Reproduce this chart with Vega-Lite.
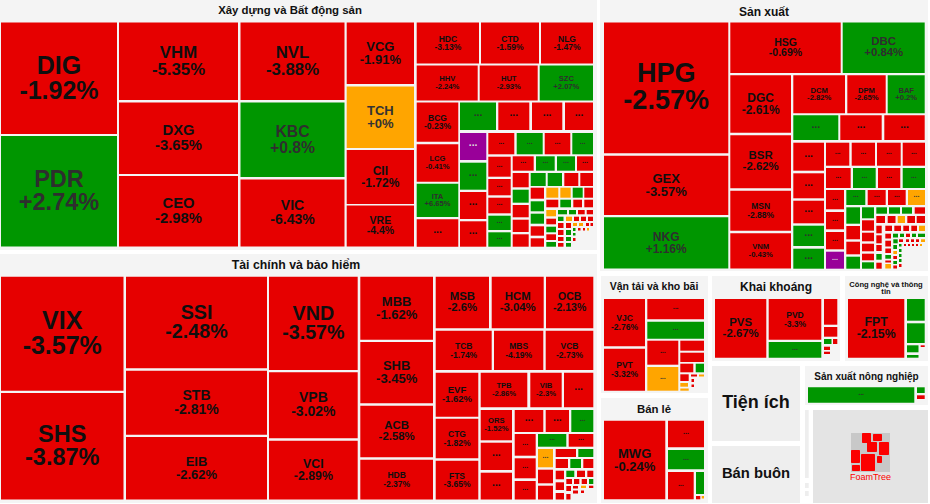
{"$schema":"https://vega.github.io/schema/vega-lite/v6.json","width":930,"height":504,"autosize":"none","padding":0,"background":"#ffffff","view":{"stroke":null},
"datasets":{
"panels":[
{"kind":"sector","x0":0,"x1":597,"y0":0,"y1":250},{"kind":"sector","x0":0,"x1":597,"y0":254,"y1":503},{"kind":"sector","x0":600,"x1":928,"y0":0,"y1":271},{"kind":"sector","x0":601,"x1":708,"y0":276,"y1":393},{"kind":"sector","x0":601,"x1":708,"y0":398,"y1":503},{"kind":"sector","x0":712,"x1":840,"y0":276,"y1":361},{"kind":"sector","x0":845,"x1":928,"y0":276,"y1":361},{"kind":"closed","x0":712,"x1":800,"y0":366,"y1":441},{"kind":"closed","x0":712,"x1":800,"y0":446,"y1":503},{"kind":"sector","x0":805,"x1":928,"y0":366,"y1":405},{"kind":"closed","x0":805,"x1":808.7,"y0":410,"y1":478},{"kind":"closed","x0":805,"x1":808.7,"y0":483,"y1":488},{"kind":"closed","x0":805,"x1":808.7,"y0":491,"y1":496},{"kind":"brand","x0":813,"x1":928,"y0":410,"y1":503},{"kind":"logo","x0":851,"x1":890,"y0":433,"y1":472}
],
"titles":[
{"t":"Xây dựng và Bất động sản","x":290,"y":10.5,"tier":"l"},{"t":"Tài chính và bảo hiểm","x":296,"y":265,"tier":"j"},{"t":"Sản xuất","x":764,"y":12,"tier":"k"},{"t":"Vận tải và kho bãi","x":654,"y":287,"tier":"m"},{"t":"Bán lẻ","x":654,"y":410,"tier":"l"},{"t":"Khai khoáng","x":776,"y":287,"tier":"k"},{"t":"Công nghệ và thông","x":886,"y":284.5,"tier":"p"},{"t":"tin","x":886,"y":291.5,"tier":"p"},{"t":"Sản xuất nông nghiệp","x":866.5,"y":377,"tier":"s"},{"t":"Tiện ích","x":756,"y":403,"tier":"t"},{"t":"Bán buôn","x":756,"y":474,"tier":"g"}
],
"logo":[
{"x0":862,"x1":871,"y0":433,"y1":443},{"x0":873,"x1":882,"y0":434,"y1":441},{"x0":867,"x1":877,"y0":442,"y1":452},{"x0":879,"x1":889,"y0":442,"y1":455},{"x0":851,"x1":860,"y0":450,"y1":463},{"x0":861,"x1":875,"y0":454,"y1":471},{"x0":877,"x1":882,"y0":456,"y1":463},{"x0":852,"x1":860,"y0":465,"y1":471}
],
"cells":[
{"code":"DIG","pct":"-1.92%","status":"down","tier":"b","x0":1,"x1":117,"y0":22.5,"y1":134},
{"code":"PDR","pct":"+2.74%","status":"up","tier":"c","x0":1,"x1":117,"y0":136,"y1":246.5},
{"code":"VHM","pct":"-5.35%","status":"down","tier":"e","x0":119,"x1":238,"y0":22.5,"y1":100},
{"code":"DXG","pct":"-3.65%","status":"down","tier":"g","x0":119,"x1":238,"y0":102.5,"y1":174},
{"code":"CEO","pct":"-2.98%","status":"down","tier":"g","x0":119,"x1":238,"y0":176,"y1":246.5},
{"code":"NVL","pct":"-3.88%","status":"down","tier":"e","x0":240.5,"x1":344.5,"y0":22.5,"y1":100},
{"code":"KBC","pct":"+0.8%","status":"up","tier":"f","x0":240.5,"x1":344.5,"y0":102.5,"y1":177},
{"code":"VIC","pct":"-6.43%","status":"down","tier":"h","x0":240.5,"x1":344.5,"y0":179.5,"y1":246.5},
{"code":"VCG","pct":"-1.91%","status":"down","tier":"i","x0":346.7,"x1":414,"y0":22.5,"y1":84},
{"code":"TCH","pct":"+0%","status":"flat","tier":"i","x0":346.7,"x1":414,"y0":86.5,"y1":148},
{"code":"CII","pct":"-1.72%","status":"down","tier":"k","x0":346.7,"x1":414,"y0":150,"y1":204},
{"code":"VRE","pct":"-4.4%","status":"down","tier":"m","x0":346.7,"x1":414,"y0":205.5,"y1":246.5},
{"code":"HDC","pct":"-3.13%","status":"down","tier":"o","x0":416.7,"x1":479,"y0":22.5,"y1":63.5},
{"code":"CTD","pct":"-1.59%","status":"down","tier":"o","x0":481,"x1":539,"y0":22.5,"y1":63.5},
{"code":"NLG","pct":"-1.47%","status":"down","tier":"o","x0":541,"x1":593,"y0":22.5,"y1":63.5},
{"code":"HHV","pct":"-2.24%","status":"down","tier":"p","x0":416.7,"x1":477.7,"y0":65.5,"y1":100.5},
{"code":"HUT","pct":"-2.93%","status":"down","tier":"p","x0":479.7,"x1":537.7,"y0":65.5,"y1":100.5},
{"code":"SZC","pct":"+2.07%","status":"up","tier":"p","x0":539.7,"x1":593,"y0":65.5,"y1":100.5},
{"code":"BCG","pct":"-0.23%","status":"down","tier":"o","x0":416.7,"x1":458.3,"y0":102.5,"y1":141.7},
{"code":"...","status":"up","tier":"q","x0":460,"x1":496,"y0":102.5,"y1":130},
{"code":"...","status":"down","tier":"q","x0":498.3,"x1":529.3,"y0":102.5,"y1":130},
{"code":"...","status":"down","tier":"q","x0":532,"x1":562.3,"y0":102.5,"y1":130},
{"code":"...","status":"down","tier":"q","x0":565,"x1":593,"y0":102.5,"y1":130},
{"code":"LCG","pct":"-0.41%","status":"down","tier":"p","x0":416.7,"x1":458.3,"y0":144.3,"y1":181.7},
{"code":"ITA","pct":"+6.65%","status":"up","tier":"p","x0":416.7,"x1":458.3,"y0":183.7,"y1":217},
{"code":"...","status":"down","tier":"q","x0":416.7,"x1":458.3,"y0":219.3,"y1":246.7},
{"code":"...","status":"ceiling","tier":"q","x0":460,"x1":486.3,"y0":133,"y1":160},
{"code":"...","status":"up","tier":"q","x0":460,"x1":486.3,"y0":162.7,"y1":189.7},
{"code":"...","status":"down","tier":"q","x0":460,"x1":486.3,"y0":192,"y1":219},
{"code":"...","status":"down","tier":"q","x0":460,"x1":486.3,"y0":221.3,"y1":246.7},
{"code":"...","status":"down","tier":"r","x0":488.3,"x1":514.3,"y0":133,"y1":154.3},
{"code":"...","status":"up","tier":"r","x0":516.7,"x1":542.7,"y0":133,"y1":154.3},
{"code":"...","status":"down","tier":"r","x0":544.7,"x1":570.3,"y0":133,"y1":154.3},
{"code":"...","status":"up","tier":"r","x0":572.3,"x1":593,"y0":133,"y1":154.3},
{"code":"...","status":"down","tier":"r","x0":488.3,"x1":510.7,"y0":156.7,"y1":176.7},
{"code":"...","status":"down","tier":"r","x0":488.3,"x1":510.7,"y0":179,"y1":195.3},
{"code":"...","status":"down","tier":"r","x0":488.3,"x1":510.7,"y0":197.7,"y1":213.3},
{"code":"...","status":"up","tier":"r","x0":488.3,"x1":510.7,"y0":215.7,"y1":230},
{"code":"...","status":"up","tier":"r","x0":488.3,"x1":510.7,"y0":232.3,"y1":246.7},
{"code":"...","status":"down","tier":"r","x0":512.7,"x1":533.7,"y0":156.3,"y1":170.7},
{"code":"...","status":"up","tier":"r","x0":536,"x1":554.7,"y0":156.3,"y1":170.7},
{"code":"...","status":"up","tier":"r","x0":557,"x1":575,"y0":156.3,"y1":170.7},
{"code":"...","status":"down","tier":"r","x0":577,"x1":593,"y0":156.3,"y1":170.7},
{"status":"down","x0":512.7,"x1":528.7,"y0":173,"y1":187.3},{"status":"up","x0":512.7,"x1":528.7,"y0":189.7,"y1":202.7},{"status":"down","x0":512.7,"x1":528.7,"y0":205,"y1":217.3},{"status":"down","x0":512.7,"x1":528.7,"y0":219.7,"y1":232},{"status":"down","x0":512.7,"x1":528.7,"y0":234.3,"y1":246.7},
{"status":"up","x0":530.7,"x1":545.7,"y0":173,"y1":186},{"status":"up","x0":547.7,"x1":562,"y0":173,"y1":186},{"status":"down","x0":564.3,"x1":578.3,"y0":173,"y1":186},{"status":"down","x0":580.3,"x1":593,"y0":173,"y1":186},
{"status":"down","x0":530.7,"x1":544,"y0":187.7,"y1":198.7},{"status":"up","x0":530.7,"x1":544,"y0":201.3,"y1":211.3},{"status":"up","x0":530.7,"x1":544,"y0":213.7,"y1":223.7},{"status":"down","x0":530.7,"x1":544,"y0":226.3,"y1":235.7},{"status":"down","x0":530.7,"x1":544,"y0":238.3,"y1":246.7},
{"status":"flat","x0":546.3,"x1":558.3,"y0":187.7,"y1":197.7},{"status":"flat","x0":560.3,"x1":570.7,"y0":187.7,"y1":197.7},{"status":"up","x0":572.7,"x1":582.7,"y0":187.7,"y1":197.7},{"status":"down","x0":584.3,"x1":593,"y0":187.7,"y1":197.7},
{"status":"down","x0":546.3,"x1":558.3,"y0":199.7,"y1":207.3},{"status":"up","x0":560.3,"x1":571,"y0":199.7,"y1":207.3},{"status":"down","x0":573.3,"x1":582,"y0":199.7,"y1":207.3},{"status":"down","x0":584.3,"x1":593,"y0":199.7,"y1":207.3},
{"status":"flat","x0":546.3,"x1":556,"y0":210,"y1":216.3},{"status":"down","x0":546.3,"x1":556,"y0":218.7,"y1":224.3},{"status":"up","x0":546.3,"x1":556,"y0":226.7,"y1":232.3},{"status":"down","x0":546.3,"x1":556,"y0":234.3,"y1":240},{"status":"up","x0":546.3,"x1":556,"y0":242,"y1":246.7},
{"status":"up","x0":558,"x1":567,"y0":210,"y1":214.3},{"status":"up","x0":569,"x1":576,"y0":210,"y1":214.3},{"status":"down","x0":578,"x1":584.7,"y0":210,"y1":214.3},{"status":"down","x0":586.7,"x1":593,"y0":210,"y1":214.3},
{"status":"up","x0":558,"x1":563.5,"y0":216.7,"y1":221},{"status":"flat","x0":566,"x1":572,"y0":216.7,"y1":221},{"status":"down","x0":574,"x1":579,"y0":216.7,"y1":221},{"status":"down","x0":581,"x1":586,"y0":216.7,"y1":221},{"status":"down","x0":588,"x1":593,"y0":216.7,"y1":221},
{"status":"down","x0":558,"x1":563.5,"y0":223,"y1":228},{"status":"down","x0":566,"x1":571,"y0":223,"y1":228},{"status":"flat","x0":573,"x1":577,"y0":223,"y1":226},{"status":"flat","x0":579,"x1":583,"y0":223,"y1":226},{"status":"down","x0":586,"x1":589,"y0":223,"y1":226},{"status":"down","x0":590.5,"x1":593,"y0":223,"y1":226},
{"status":"down","x0":558,"x1":563.5,"y0":230,"y1":235},{"status":"up","x0":566,"x1":571,"y0":230,"y1":235},{"status":"up","x0":573,"x1":575.5,"y0":228,"y1":231},{"status":"down","x0":578,"x1":580.5,"y0":228,"y1":230.5},{"status":"down","x0":583,"x1":585,"y0":228,"y1":230.5},{"status":"flat","x0":587,"x1":589,"y0":228,"y1":230.5},
{"status":"down","x0":558,"x1":563.5,"y0":237,"y1":241},{"status":"up","x0":566,"x1":571,"y0":237,"y1":241},{"status":"up","x0":573,"x1":575.5,"y0":233,"y1":235.5},{"status":"down","x0":573,"x1":575.5,"y0":238,"y1":241},
{"status":"down","x0":558,"x1":563.5,"y0":243,"y1":246.7},{"status":"up","x0":566,"x1":571,"y0":243,"y1":246.7},

{"code":"VIX","pct":"-3.57%","status":"down","tier":"b","x0":1,"x1":123.5,"y0":276.7,"y1":390.7},
{"code":"SHS","pct":"-3.87%","status":"down","tier":"c","x0":1,"x1":123.5,"y0":393,"y1":499.5},
{"code":"SSI","pct":"-2.48%","status":"down","tier":"d","x0":126,"x1":267,"y0":276.7,"y1":368.3},
{"code":"STB","pct":"-2.81%","status":"down","tier":"h","x0":126,"x1":267,"y0":370.7,"y1":434.7},
{"code":"EIB","pct":"-2.62%","status":"down","tier":"i","x0":126,"x1":267,"y0":437,"y1":499.5},
{"code":"VND","pct":"-3.57%","status":"down","tier":"d","x0":269,"x1":357.7,"y0":276.7,"y1":370},
{"code":"VPB","pct":"-3.02%","status":"down","tier":"h","x0":269,"x1":357.7,"y0":372.3,"y1":438.3},
{"code":"VCI","pct":"-2.89%","status":"down","tier":"j","x0":269,"x1":357.7,"y0":440.7,"y1":499.5},
{"code":"MBB","pct":"-1.62%","status":"down","tier":"i","x0":360.3,"x1":433,"y0":276.7,"y1":339.7},
{"code":"SHB","pct":"-3.45%","status":"down","tier":"i","x0":360.3,"x1":433,"y0":342,"y1":403.3},
{"code":"ACB","pct":"-2.58%","status":"down","tier":"l","x0":360.3,"x1":433,"y0":405.7,"y1":457.3},
{"code":"HDB","pct":"-2.37%","status":"down","tier":"o","x0":360.3,"x1":433,"y0":459.7,"y1":499.5},
{"code":"MSB","pct":"-2.6%","status":"down","tier":"l","x0":435.7,"x1":489,"y0":276.7,"y1":328.3},
{"code":"HCM","pct":"-3.04%","status":"down","tier":"l","x0":491.7,"x1":543.7,"y0":276.7,"y1":328.3},
{"code":"OCB","pct":"-2.13%","status":"down","tier":"m","x0":546,"x1":593.3,"y0":276.7,"y1":328.3},
{"code":"TCB","pct":"-1.74%","status":"down","tier":"o","x0":435.7,"x1":491.7,"y0":330.7,"y1":370},
{"code":"MBS","pct":"-4.19%","status":"down","tier":"o","x0":494,"x1":543.3,"y0":330.7,"y1":370},
{"code":"VCB","pct":"-2.73%","status":"down","tier":"o","x0":545.7,"x1":593.3,"y0":330.7,"y1":370},
{"code":"EVF","pct":"-1.62%","status":"down","tier":"n","x0":435.7,"x1":478.3,"y0":372.7,"y1":416.7},
{"code":"CTG","pct":"-1.82%","status":"down","tier":"o","x0":435.7,"x1":478.3,"y0":418.7,"y1":458.3},
{"code":"FTS","pct":"-3.65%","status":"down","tier":"o","x0":435.7,"x1":478.3,"y0":460.7,"y1":499.5},
{"code":"TPB","pct":"-2.86%","status":"down","tier":"p","x0":480.7,"x1":527.3,"y0":372.7,"y1":407.3},
{"code":"VIB","pct":"-2.3%","status":"down","tier":"p","x0":530.3,"x1":561.7,"y0":372.7,"y1":407.3},
{"code":"...","status":"down","tier":"q","x0":564,"x1":593.3,"y0":372.7,"y1":407.3},
{"code":"ORS","pct":"-1.52%","status":"down","tier":"p","x0":480.7,"x1":512,"y0":410,"y1":440.3},
{"code":"...","status":"down","tier":"q","x0":480.7,"x1":512,"y0":442.7,"y1":470},
{"code":"...","status":"down","tier":"q","x0":480.7,"x1":512,"y0":472.7,"y1":499.5},
{"code":"...","status":"down","tier":"q","x0":514.7,"x1":543.3,"y0":410,"y1":432},
{"code":"...","status":"down","tier":"q","x0":545.7,"x1":569,"y0":410,"y1":432},
{"code":"...","status":"up","tier":"r","x0":571.3,"x1":593.3,"y0":410,"y1":432},
{"code":"...","status":"down","tier":"r","x0":514.7,"x1":535.7,"y0":434,"y1":455.7},
{"code":"...","status":"down","tier":"r","x0":514.7,"x1":535.7,"y0":458.3,"y1":478.3},
{"code":"...","status":"down","tier":"r","x0":514.7,"x1":535.7,"y0":481,"y1":499.5},
{"code":"...","status":"up","tier":"r","x0":538,"x1":566.3,"y0":434,"y1":446.7},
{"code":"...","status":"down","tier":"r","x0":568.7,"x1":593.3,"y0":434,"y1":446.7},
{"code":"...","status":"flat","tier":"r","x0":538,"x1":553,"y0":449,"y1":467.3},
{"status":"down","x0":538,"x1":553,"y0":469.7,"y1":483.3},{"status":"down","x0":538,"x1":553,"y0":485.7,"y1":499.5},
{"status":"down","x0":555.7,"x1":576,"y0":449,"y1":457},{"status":"up","x0":578.3,"x1":593.3,"y0":449,"y1":457},
{"status":"down","x0":555.7,"x1":568,"y0":459,"y1":468},{"status":"up","x0":570.3,"x1":581,"y0":459,"y1":468},{"status":"down","x0":583.3,"x1":593.3,"y0":459,"y1":468},
{"status":"down","x0":555.7,"x1":564,"y0":470.7,"y1":479.3},{"status":"down","x0":555.7,"x1":564,"y0":482.3,"y1":490},{"status":"down","x0":555.7,"x1":564,"y0":493,"y1":499.5},
{"status":"up","x0":566.3,"x1":574.3,"y0":470.7,"y1":477},{"status":"down","x0":577,"x1":585,"y0":470.7,"y1":477},{"status":"down","x0":587.3,"x1":593.3,"y0":470.7,"y1":477},
{"status":"down","x0":566.3,"x1":572,"y0":479,"y1":484},{"status":"down","x0":574,"x1":579.3,"y0":479,"y1":484},{"status":"down","x0":581.7,"x1":587,"y0":479,"y1":484},{"status":"up","x0":589,"x1":593.3,"y0":479,"y1":484},
{"status":"down","x0":566.3,"x1":571,"y0":486,"y1":491},{"status":"down","x0":573,"x1":578,"y0":486,"y1":488.5},{"status":"flat","x0":581,"x1":586,"y0":485.7,"y1":488},{"status":"down","x0":589,"x1":593.3,"y0":485.7,"y1":488},
{"status":"down","x0":573,"x1":578,"y0":490.5,"y1":493.5},{"status":"down","x0":581,"x1":584,"y0":490.5,"y1":493},{"status":"down","x0":566.3,"x1":570.5,"y0":494,"y1":499.5},

{"code":"HPG","pct":"-2.57%","status":"down","tier":"a","x0":604,"x1":728.3,"y0":22.5,"y1":153.3},
{"code":"GEX","pct":"-3.57%","status":"down","tier":"i","x0":604,"x1":728.3,"y0":155.7,"y1":215},
{"code":"NKG","pct":"+1.16%","status":"up","tier":"k","x0":604,"x1":728.3,"y0":217.3,"y1":268.5},
{"code":"HSG","pct":"-0.69%","status":"down","tier":"m","x0":730.3,"x1":840.7,"y0":22.5,"y1":73},
{"code":"DBC","pct":"+0.84%","status":"up","tier":"l","x0":842.7,"x1":924.7,"y0":22.5,"y1":73},
{"code":"DGC","pct":"-2.61%","status":"down","tier":"k","x0":730.3,"x1":791,"y0":75.3,"y1":132.7},
{"code":"BSR","pct":"-2.62%","status":"down","tier":"l","x0":730.3,"x1":791,"y0":135.3,"y1":188.3},
{"code":"MSN","pct":"-2.88%","status":"down","tier":"o","x0":730.3,"x1":791,"y0":190.7,"y1":230.7},
{"code":"VNM","pct":"-0.43%","status":"down","tier":"p","x0":730.3,"x1":791,"y0":233.3,"y1":268.5},
{"code":"DCM","pct":"-2.82%","status":"down","tier":"p","x0":793.3,"x1":845,"y0":75.3,"y1":113.3},
{"code":"DPM","pct":"-2.65%","status":"down","tier":"p","x0":847.3,"x1":885.7,"y0":75.3,"y1":113.3},
{"code":"BAF","pct":"+0.2%","status":"up","tier":"p","x0":887.7,"x1":924.7,"y0":75.3,"y1":113.3},
{"code":"...","status":"up","tier":"q","x0":793.3,"x1":838.3,"y0":115.3,"y1":140},
{"code":"...","status":"down","tier":"q","x0":840.3,"x1":881.7,"y0":115.3,"y1":140},
{"code":"...","status":"down","tier":"q","x0":884.3,"x1":924.7,"y0":115.3,"y1":140},
{"code":"...","status":"down","tier":"q","x0":793.3,"x1":824,"y0":142.7,"y1":170.7},
{"code":"...","status":"down","tier":"q","x0":793.3,"x1":824,"y0":173.3,"y1":198.3},
{"code":"...","status":"down","tier":"q","x0":793.3,"x1":824,"y0":200.7,"y1":223.3},
{"code":"...","status":"up","tier":"q","x0":793.3,"x1":824,"y0":225.7,"y1":246},
{"code":"...","status":"up","tier":"q","x0":793.3,"x1":824,"y0":248.7,"y1":268.7},
{"code":"...","status":"down","tier":"r","x0":826,"x1":849.3,"y0":142.7,"y1":165.7},
{"code":"...","status":"down","tier":"r","x0":851.7,"x1":875,"y0":142.7,"y1":165.7},
{"code":"...","status":"down","tier":"r","x0":877,"x1":900.7,"y0":142.7,"y1":165.7},
{"code":"...","status":"down","tier":"r","x0":902.7,"x1":925,"y0":142.7,"y1":165.7},
{"code":"...","status":"down","tier":"r","x0":826,"x1":850.7,"y0":168,"y1":188},
{"code":"...","status":"up","tier":"r","x0":853,"x1":875.7,"y0":168,"y1":188},
{"code":"...","status":"down","tier":"r","x0":878,"x1":900.3,"y0":168,"y1":188},
{"code":"...","status":"up","tier":"r","x0":902.7,"x1":925,"y0":168,"y1":188},
{"code":"...","status":"down","tier":"r","x0":826,"x1":844,"y0":190,"y1":209.3},
{"code":"...","status":"down","tier":"r","x0":826,"x1":844,"y0":212,"y1":229.3},
{"code":"...","status":"down","tier":"r","x0":826,"x1":844,"y0":232,"y1":249.3},
{"code":"...","status":"ceiling","tier":"r","x0":826,"x1":844,"y0":251.7,"y1":268.7},
{"code":"...","status":"up","tier":"r","x0":846.3,"x1":865.3,"y0":190,"y1":205},
{"code":"...","status":"down","tier":"r","x0":867.7,"x1":885.7,"y0":190,"y1":205},
{"code":"...","status":"down","tier":"r","x0":888,"x1":905.7,"y0":190,"y1":205},
{"code":"...","status":"flat","tier":"r","x0":908,"x1":925,"y0":190,"y1":205},
{"status":"up","x0":846.3,"x1":860,"y0":207.3,"y1":223.7},{"status":"down","x0":846.3,"x1":860,"y0":226,"y1":239.3},{"status":"down","x0":846.3,"x1":860,"y0":241.7,"y1":254.3},{"status":"up","x0":846.3,"x1":860,"y0":256.7,"y1":268.7},
{"status":"up","x0":862,"x1":874,"y0":207.3,"y1":218.3},{"status":"down","x0":862,"x1":874,"y0":220.3,"y1":230.7},{"status":"down","x0":862,"x1":874,"y0":232.7,"y1":241.3},{"status":"down","x0":862,"x1":874,"y0":243.7,"y1":251.3},{"status":"down","x0":862,"x1":874,"y0":253.7,"y1":260.3},{"status":"up","x0":862,"x1":874,"y0":262.3,"y1":268.7},
{"status":"up","x0":876.3,"x1":887,"y0":207.3,"y1":213.7},{"status":"up","x0":889,"x1":900,"y0":207.3,"y1":213.7},{"status":"up","x0":902,"x1":912,"y0":207.3,"y1":213.7},{"status":"down","x0":914.7,"x1":925,"y0":207.3,"y1":213.7},
{"status":"down","x0":876.3,"x1":885,"y0":216,"y1":223},{"status":"down","x0":887.7,"x1":895.5,"y0":216,"y1":223},{"status":"flat","x0":897.7,"x1":905,"y0":216,"y1":223},{"status":"down","x0":907.3,"x1":915,"y0":216,"y1":223},{"status":"down","x0":916.7,"x1":925,"y0":216,"y1":223},
{"status":"down","x0":876.3,"x1":881.7,"y0":225.7,"y1":233.3},{"status":"down","x0":876.3,"x1":881.7,"y0":235.3,"y1":243.3},{"status":"down","x0":876.3,"x1":881.7,"y0":245,"y1":251},{"status":"up","x0":876.3,"x1":881.7,"y0":254,"y1":259.7},{"status":"down","x0":876.3,"x1":881.7,"y0":262.7,"y1":268.7},
{"status":"down","x0":885.3,"x1":892,"y0":225.7,"y1":231},{"status":"down","x0":894.3,"x1":901,"y0":225.7,"y1":231},{"status":"down","x0":903.3,"x1":909,"y0":225.7,"y1":231},{"status":"down","x0":911.3,"x1":917,"y0":225.7,"y1":231},{"status":"flat","x0":919,"x1":925,"y0":225.7,"y1":231},
{"status":"down","x0":885.3,"x1":891,"y0":233.7,"y1":238.5},{"status":"up","x0":893,"x1":898,"y0":233.7,"y1":237.5},{"status":"up","x0":900,"x1":904,"y0":233.7,"y1":237},{"status":"down","x0":906,"x1":910,"y0":233.7,"y1":237},{"status":"up","x0":912,"x1":916,"y0":233.7,"y1":237},{"status":"up","x0":918,"x1":925,"y0":233.7,"y1":237},
{"status":"down","x0":885.3,"x1":891,"y0":240.7,"y1":246.5},{"status":"up","x0":893.3,"x1":897.7,"y0":239.3,"y1":243.3},{"status":"down","x0":899,"x1":903,"y0":239.3,"y1":242},{"status":"down","x0":906,"x1":909,"y0":239.3,"y1":242},{"status":"down","x0":911,"x1":914,"y0":239.3,"y1":242},{"status":"down","x0":916,"x1":919,"y0":239.3,"y1":242},{"status":"flat","x0":921,"x1":925,"y0":239.3,"y1":242},
{"status":"down","x0":885.3,"x1":891,"y0":248.5,"y1":253},{"status":"up","x0":893.3,"x1":897,"y0":245,"y1":249},{"status":"up","x0":899,"x1":901.5,"y0":244,"y1":246.5},{"status":"down","x0":904,"x1":906,"y0":244,"y1":246},{"status":"down","x0":908,"x1":910,"y0":244,"y1":246},{"status":"down","x0":912,"x1":914,"y0":244,"y1":246},{"status":"down","x0":916,"x1":918,"y0":244,"y1":246},{"status":"flat","x0":920,"x1":922,"y0":244,"y1":246},
{"status":"up","x0":885.3,"x1":891,"y0":255,"y1":258.7},{"status":"flat","x0":893.3,"x1":897,"y0":251,"y1":254},{"status":"up","x0":899,"x1":901.5,"y0":249,"y1":252},{"status":"down","x0":893.3,"x1":897,"y0":256,"y1":259},{"status":"up","x0":899,"x1":901.5,"y0":254,"y1":257},{"status":"flat","x0":885.3,"x1":891,"y0":264,"y1":268.5},{"status":"down","x0":885.3,"x1":891,"y0":260.5,"y1":262.5},{"status":"up","x0":893.3,"x1":897,"y0":261,"y1":264},{"status":"down","x0":893.3,"x1":897,"y0":265.5,"y1":268.5},{"status":"up","x0":899,"x1":901.5,"y0":259,"y1":262},{"status":"down","x0":899,"x1":901.5,"y0":264,"y1":267},

{"code":"VJC","pct":"-2.76%","status":"down","tier":"o","x0":604,"x1":645,"y0":299,"y1":346.3},
{"code":"PVT","pct":"-3.32%","status":"down","tier":"o","x0":604,"x1":645,"y0":348.7,"y1":390.7},
{"code":"...","status":"down","tier":"r","x0":647.3,"x1":704,"y0":299,"y1":319.3},
{"code":"...","status":"up","tier":"r","x0":647.3,"x1":704,"y0":321.7,"y1":338.7},
{"code":"...","status":"down","tier":"r","x0":647.3,"x1":678.3,"y0":340.7,"y1":364.7},
{"code":"...","status":"flat","tier":"r","x0":647.3,"x1":678.3,"y0":367,"y1":390.7},
{"status":"down","x0":680.3,"x1":704,"y0":340.7,"y1":350.7},{"status":"down","x0":680.3,"x1":704,"y0":352.7,"y1":362},{"status":"down","x0":680.3,"x1":693.3,"y0":363.7,"y1":372.3},{"status":"up","x0":695.7,"x1":704,"y0":363.7,"y1":372.3},
{"status":"down","x0":680.3,"x1":688.7,"y0":374.3,"y1":381},{"status":"down","x0":691,"x1":697,"y0":374.5,"y1":376.5},{"status":"flat","x0":699,"x1":704,"y0":374.5,"y1":376.5},{"status":"down","x0":691.5,"x1":694,"y0":379,"y1":382},{"status":"flat","x0":680.3,"x1":688,"y0":383,"y1":386.7},{"status":"down","x0":691.5,"x1":694,"y0":384.5,"y1":387},{"status":"flat","x0":680.3,"x1":688.7,"y0":388.5,"y1":390.7},
{"code":"MWG","pct":"-0.24%","status":"down","tier":"i","x0":604,"x1":665.3,"y0":420.7,"y1":499.3},
{"code":"...","status":"down","tier":"r","x0":668,"x1":704,"y0":420.7,"y1":447.3},
{"code":"...","status":"up","tier":"r","x0":668,"x1":704,"y0":450,"y1":469.3},
{"code":"...","status":"down","tier":"r","x0":668,"x1":693.7,"y0":472,"y1":499.3},
{"status":"up","x0":696,"x1":704,"y0":472,"y1":494},{"status":"down","x0":696,"x1":700.3,"y0":496,"y1":499.3},{"status":"flat","x0":701.7,"x1":704,"y0":496,"y1":498.5},
{"code":"PVS","pct":"-2.67%","status":"down","tier":"l","x0":715,"x1":766.3,"y0":299,"y1":357.7},
{"code":"PVD","pct":"-3.3%","status":"down","tier":"o","x0":768.7,"x1":821.3,"y0":299,"y1":339.7},
{"code":"...","status":"up","tier":"r","x0":768.7,"x1":821.3,"y0":342,"y1":357.7},
{"status":"down","x0":824,"x1":837.3,"y0":299,"y1":324.7},{"status":"down","x0":824,"x1":837.3,"y0":327,"y1":336.7},{"status":"up","x0":824,"x1":831.5,"y0":339,"y1":344},{"status":"down","x0":833,"x1":837.3,"y0":339,"y1":344},{"status":"down","x0":824,"x1":830,"y0":346.7,"y1":350},{"status":"down","x0":824,"x1":830,"y0":351.7,"y1":354},
{"code":"FPT","pct":"-2.15%","status":"down","tier":"j","x0":848,"x1":904.3,"y0":299,"y1":357.7},
{"status":"up","x0":907,"x1":924.7,"y0":299,"y1":320.7},{"status":"up","x0":907,"x1":924.7,"y0":323.3,"y1":343},{"status":"up","x0":907,"x1":918.5,"y0":345.3,"y1":352.3},{"status":"down","x0":920.7,"x1":924.7,"y0":345.3,"y1":347},{"status":"up","x0":907,"x1":918.5,"y0":355,"y1":357.7},
{"code":"...","status":"up","tier":"r","x0":808,"x1":914.3,"y0":387.3,"y1":402.7},
{"status":"up","x0":917,"x1":924.7,"y0":387.3,"y1":393},{"status":"down","x0":917,"x1":924.7,"y0":395.3,"y1":399}
]},
"layer":[
{"data":{"name":"panels"},"mark":{"type":"rect"},
 "encoding":{"x":{"field":"x0","type":"quantitative","scale":{"domain":[0,930],"nice":false,"zero":false},"axis":null},"x2":{"field":"x1"},"y":{"field":"y0","type":"quantitative","scale":{"domain":[504,0],"nice":false,"zero":false},"axis":null},"y2":{"field":"y1"},
 "color":{"field":"kind","type":"nominal","legend":null,"scale":{"domain":["sector","closed","brand","logo"],"range":["#f4f4f4","#eeeeee","#e4e4e4","#c8c8c8"]}}}},
{"data":{"name":"logo"},"mark":{"type":"rect","fill":"#fb0000","cornerRadius":1},
 "encoding":{"x":{"field":"x0","type":"quantitative"},"x2":{"field":"x1"},"y":{"field":"y0","type":"quantitative"},"y2":{"field":"y1"}}},
{"data":{"values":[{"brand":"FoamTree","x":870.5,"y":477}]},"mark":{"type":"text","font":"Liberation Sans","fontSize":9,"fill":"#fb0000","align":"center","baseline":"middle"},
 "encoding":{"x":{"field":"x","type":"quantitative"},"y":{"field":"y","type":"quantitative"},"text":{"field":"brand"}}},
{"data":{"name":"cells"},"mark":{"type":"rect"},
 "encoding":{"x":{"field":"x0","type":"quantitative"},"x2":{"field":"x1"},"y":{"field":"y0","type":"quantitative"},"y2":{"field":"y1"},
 "color":{"field":"status","type":"nominal","legend":null,"scale":{"domain":["down","up","flat","ceiling"],"range":["#e60000","#009600","#ffa500","#990099"]}}}},
{"data":{"name":"cells"},"transform":[{"filter":"datum.code"},{"calculate":"(datum.x0+datum.x1)/2","as":"cx"},{"calculate":"(datum.y0+datum.y1)/2","as":"cy"},{"calculate":"datum.pct ? [datum.code, datum.pct] : datum.code","as":"label"}],
 "mark":{"type":"text","font":"Liberation Sans","fontWeight":"bold","align":"center","baseline":"middle","lineHeight":{"expr":"scale('size', datum.tier)"},"dy":{"expr":"datum.pct ? -scale('size', datum.tier)/2 : -0.3*scale('size', datum.tier)"}},
 "encoding":{"x":{"field":"cx","type":"quantitative"},"y":{"field":"cy","type":"quantitative"},"text":{"field":"label"},
 "size":{"field":"tier","type":"nominal","legend":null,"scale":{"type":"ordinal","domain":["a","b","c","d","e","f","g","h","i","j","k","l","m","n","o","p","q","r","s","t"],"range":[27,25,23.5,19.7,16.8,15.7,14.8,14,13,12.3,12,11.4,10.5,9.5,8.5,7.6,10.5,7,10,18]}},
 "color":{"field":"status","type":"nominal","legend":null,"scale":{"domain":["down","up","flat","ceiling"],"range":["#0f0f0f","#2e2e2e","#333333","#dddddd"]}}}},
{"data":{"name":"titles"},"mark":{"type":"text","font":"Liberation Sans","fontWeight":"bold","fill":"#111111","align":"center","baseline":"middle"},
 "encoding":{"x":{"field":"x","type":"quantitative"},"y":{"field":"y","type":"quantitative"},"text":{"field":"t"},
 "size":{"field":"tier","type":"nominal","legend":null,"scale":{"type":"ordinal","domain":["a","b","c","d","e","f","g","h","i","j","k","l","m","n","o","p","q","r","s","t"],"range":[27,25,23.5,19.7,16.8,15.7,14.8,14,13,12.3,12,11.4,10.5,9.5,8.5,7.6,10.5,7,10,18]}}}}
],
"resolve":{"scale":{"color":"independent"}}}
